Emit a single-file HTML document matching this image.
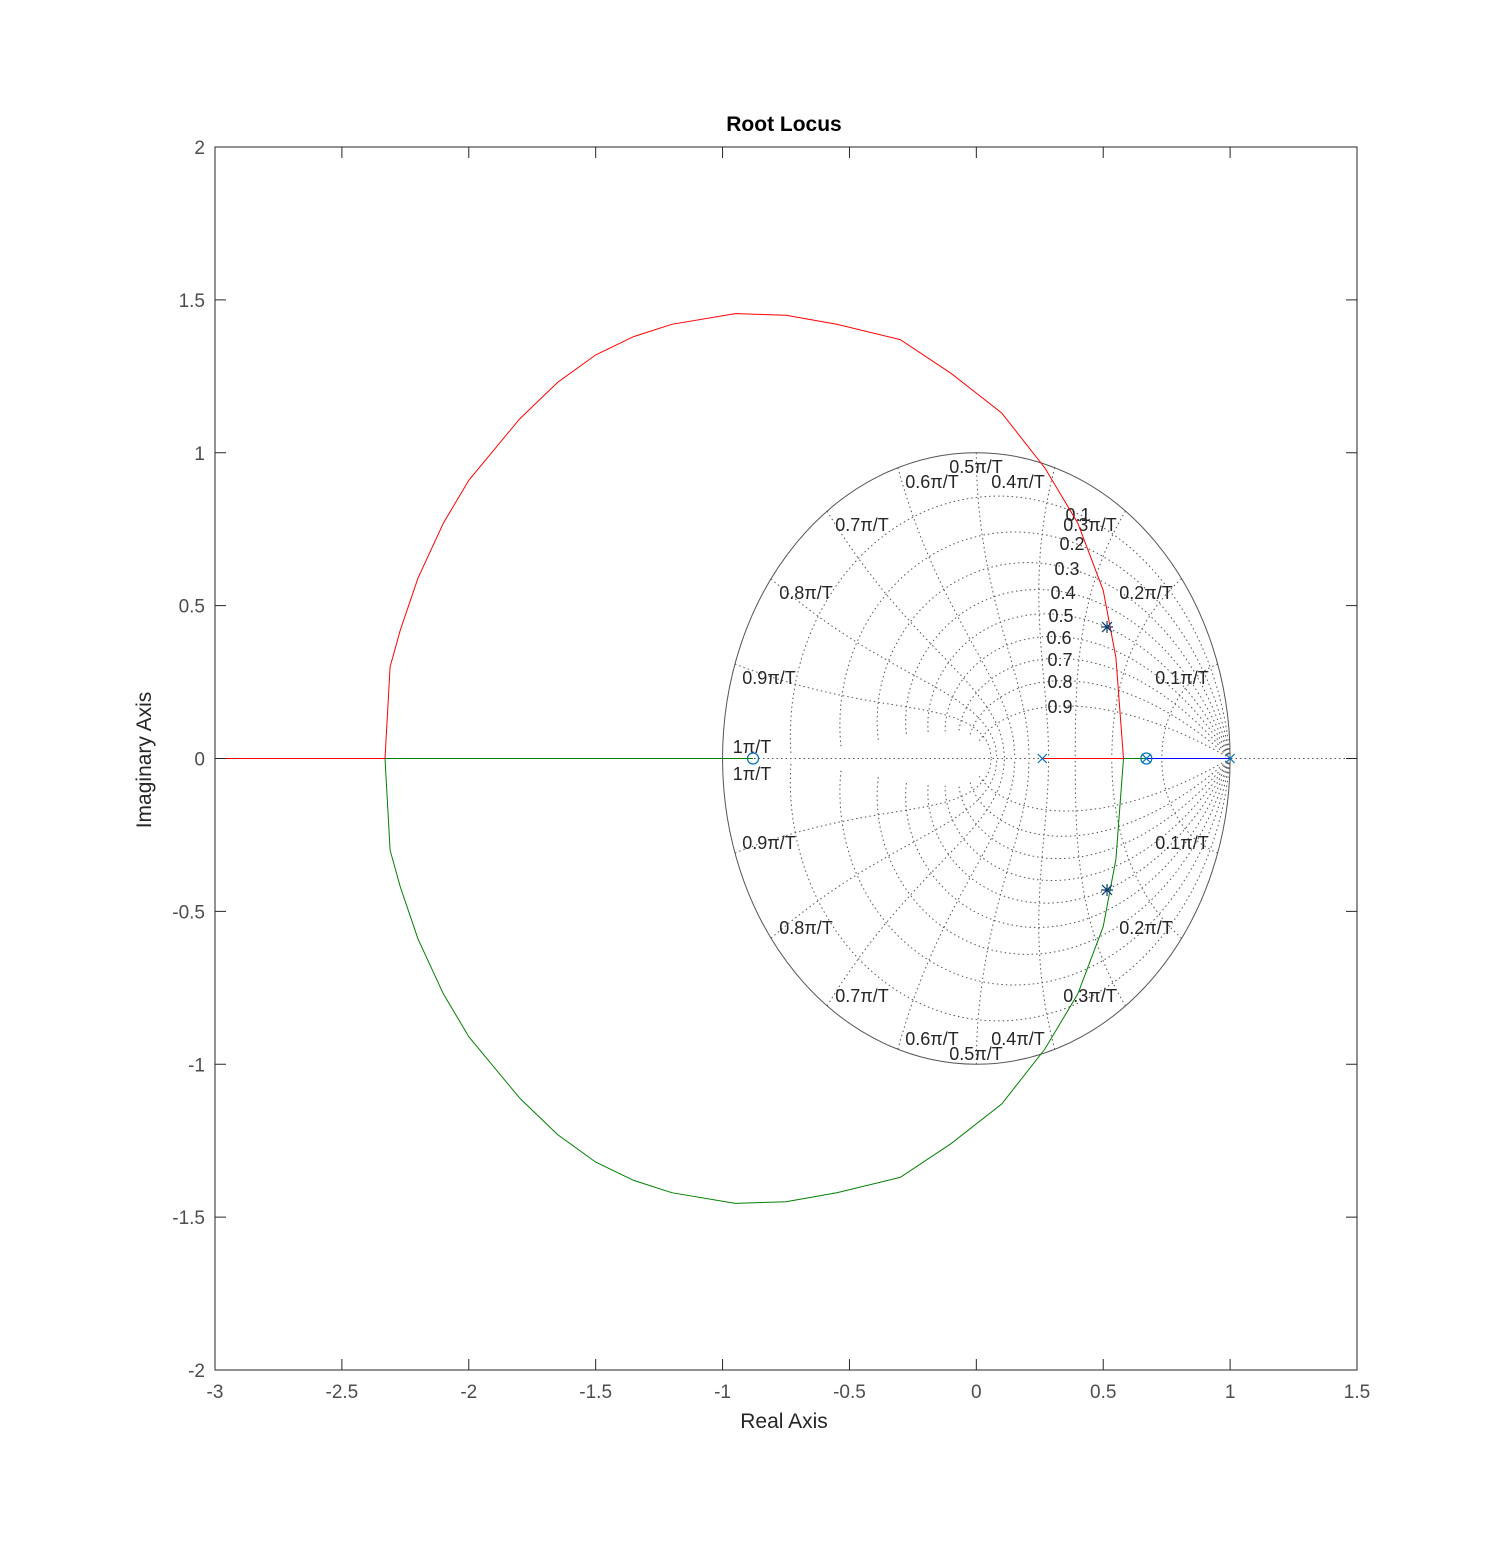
<!DOCTYPE html>
<html><head><meta charset="utf-8"><style>
body{margin:0;background:#fff;}
svg text{font-family:"Liberation Sans","DejaVu Sans",sans-serif;}
</style></head><body>
<svg id="chart" width="1500" height="1541" viewBox="0 0 1500 1541" xmlns="http://www.w3.org/2000/svg">
<rect x="0" y="0" width="1500" height="1541" fill="#fff"/>
<g id="grid"></g>
<g id="marks"></g>
<rect x="215" y="147" width="1142" height="1223" fill="none" stroke="#262626" stroke-width="1"/>
<g id="axes"></g>
<text x="784" y="131" font-size="21" font-weight="bold" text-anchor="middle" fill="#000">Root Locus</text>
<text x="784" y="1428" font-size="21" text-anchor="middle" fill="#262626">Real Axis</text>
<text x="0" y="0" font-size="21" text-anchor="middle" fill="#262626" transform="translate(151,760) rotate(-90)">Imaginary Axis</text>
</svg>
<script>
const xTicks=[-3,-2.5,-2,-1.5,-1,-0.5,0,0.5,1,1.5];
const yTicks=[2,1.5,1,0.5,0,-0.5,-1,-1.5,-2];
const poles=[[0.26,0],[0.67,0],[1,0]];
const zeros=[[-0.88,0],[0.67,0]];
const closedLoop=[[0.515,0.43],[0.515,-0.43]];
const redBranchX=[0.26,0.58,0.55,0.5,0.4,0.27,0.1,-0.1,-0.3,-0.55,-0.75,-0.95,-1.2,-1.35,-1.5,-1.65,-1.8,-2.0,-2.1,-2.2,-2.27,-2.31,-2.33,-3];
const redBranchY=[0,0,0.33,0.55,0.77,0.95,1.13,1.26,1.37,1.42,1.45,1.455,1.42,1.38,1.32,1.23,1.11,0.91,0.77,0.59,0.42,0.3,0,0];
const greenBranchX=[-0.88,-2.33,-2.31,-2.27,-2.2,-2.1,-2.0,-1.8,-1.65,-1.5,-1.35,-1.2,-0.95,-0.75,-0.55,-0.3,-0.1,0.1,0.27,0.4,0.5,0.55,0.58,0.67];
const greenBranchY=[0,0,-0.3,-0.42,-0.59,-0.77,-0.91,-1.11,-1.23,-1.32,-1.38,-1.42,-1.455,-1.45,-1.42,-1.37,-1.26,-1.13,-0.95,-0.77,-0.55,-0.33,0,0];
const blueBranchX=[1,0.67];
const blueBranchY=[0,0];
const zetaVals=[0.1,0.2,0.3,0.4,0.5,0.6,0.7,0.8,0.9];
const wnVals=[0.1,0.2,0.3,0.4,0.5,0.6,0.7,0.8,0.9,1];

const X0=215,X1=1357,Y0=147,Y1=1370,xmin=-3,xmax=1.5,ymin=-2,ymax=2;
const sx=v=>X0+(v-xmin)/(xmax-xmin)*(X1-X0);
const sy=v=>Y1-(v-ymin)/(ymax-ymin)*(Y1-Y0);
const NS="http://www.w3.org/2000/svg";
function mk(tag,attrs,parent){const e=document.createElementNS(NS,tag);for(const k in attrs)e.setAttribute(k,attrs[k]);parent.appendChild(e);return e;}
const axes=document.getElementById('axes'),grid=document.getElementById('grid'),marks=document.getElementById('marks');

xTicks.forEach(v=>{const x=sx(v);
 const t1=mk('line',{x1:x,y1:Y1,x2:x,y2:Y1-11,stroke:'#262626'},axes);
 
 
 const t2=mk('line',{x1:x,y1:Y0,x2:x,y2:Y0+11,stroke:'#262626'},axes);
 
 
 const tx=mk('text',{x:x,y:Y1+28,'font-size':19,'text-anchor':'middle',fill:'#4d4d4d'},axes);tx.textContent=String(v);
 
 
});
yTicks.forEach(v=>{const y=sy(v);
 const t1=mk('line',{x1:X0,y1:y,x2:X0+11,y2:y,stroke:'#262626'},axes);
 
 
 const t2=mk('line',{x1:X1,y1:y,x2:X1-11,y2:y,stroke:'#262626'},axes);
 
 
 const tx=mk('text',{x:X0-10,y:y+7,'font-size':19,'text-anchor':'end',fill:'#4d4d4d'},axes);tx.textContent=String(v);
 
 
});

function ptsStr(arr){return arr.map(p=>sx(p[0]).toFixed(1)+','+sy(p[1]).toFixed(1)).join(' ');}
function zOf(zeta,wn){const re=-zeta*wn,im=wn*Math.sqrt(1-zeta*zeta);const m=Math.exp(re);return [m*Math.cos(im),m*Math.sin(im)];}
const dot={fill:'none',stroke:'#555','stroke-width':1,'stroke-dasharray':'1.5,3'};
zetaVals.forEach(z=>{[1,-1].forEach(s=>{const a=[];for(let i=0;i<=100;i++){const p=zOf(z,Math.PI*i/100);a.push([p[0],s*p[1]]);}
 const e=mk('polyline',Object.assign({points:ptsStr(a)},dot),grid);
 
 });});
wnVals.filter(w=>w<1).forEach(w=>{[1,-1].forEach(s=>{const a=[];for(let i=0;i<=60;i++){const p=zOf(i/60*0.9999,w*Math.PI);a.push([p[0],s*p[1]]);}
 const e=mk('polyline',Object.assign({points:ptsStr(a)},dot),grid);
 
 });});
const rl=mk('line',Object.assign({x1:sx(-1),y1:sy(0),x2:sx(1.5),y2:sy(0)},dot),grid);


const uc=mk('ellipse',{cx:sx(0),cy:sy(0),rx:sx(1)-sx(0),ry:sy(0)-sy(1),fill:'none',stroke:'#555','stroke-width':1},grid);


const zl=[[1078,521],[1072,550],[1067,575],[1063,599],[1061,622],[1059,644],[1060,666],[1060,688],[1060,713]];
zetaVals.forEach((z,i)=>{const t=mk('text',{x:zl[i][0],y:zl[i][1],'font-size':18,'text-anchor':'middle',fill:'#262626'},grid);t.textContent=String(z);
 
 });
const wl={0.1:[1182,677,842],0.2:[1146,592,927],0.3:[1090,524,995],0.4:[1018,481,1038],0.5:[976,466,1053],0.6:[932,481,1038],0.7:[862,524,995],0.8:[806,592,927],0.9:[769,677,842],1:[752,746,773]};
wnVals.forEach(w=>{const L=wl[w];const lbl=(w===1?'1':String(w))+'\u03C0/T';
 [L[1],L[2]].forEach(y=>{const t=mk('text',{x:L[0],y:y+7,'font-size':18,'text-anchor':'middle',fill:'#262626'},grid);t.textContent=lbl;
 
 });});

function branch(xs,ys,col,name){const a=xs.map((x,i)=>[x,ys[i]]);const e=mk('polyline',{points:ptsStr(a),fill:'none',stroke:col,'stroke-width':1},marks);
 
 }
branch(greenBranchX,greenBranchY,'#008000','green-branch');
branch(redBranchX,redBranchY,'#ff0000','red-branch');
branch(blueBranchX,blueBranchY,'#0000ff','blue-branch');
const bc='#0072bd';
poles.forEach(p=>{const x=sx(p[0]),y=sy(p[1]),d=4.5;
 const g=mk('path',{d:`M${x-d},${y-d}L${x+d},${y+d}M${x-d},${y+d}L${x+d},${y-d}`,stroke:bc,'stroke-width':1.2,fill:'none'},marks);
 
 });
zeros.forEach(p=>{const c=mk('circle',{cx:sx(p[0]),cy:sy(p[1]),r:5.5,stroke:bc,'stroke-width':1.2,fill:'none'},marks);
 
 });
closedLoop.forEach(p=>{const x=sx(p[0]),y=sy(p[1]),d=5;
 const g=mk('path',{d:`M${x-d},${y-d}L${x+d},${y+d}M${x-d},${y+d}L${x+d},${y-d}M${x-d-1},${y}L${x+d+1},${y}M${x},${y-d-1}L${x},${y+d+1}`,stroke:'#0b3d6e','stroke-width':1.2,fill:'none'},marks);
 
 });
</script>
</body></html>
